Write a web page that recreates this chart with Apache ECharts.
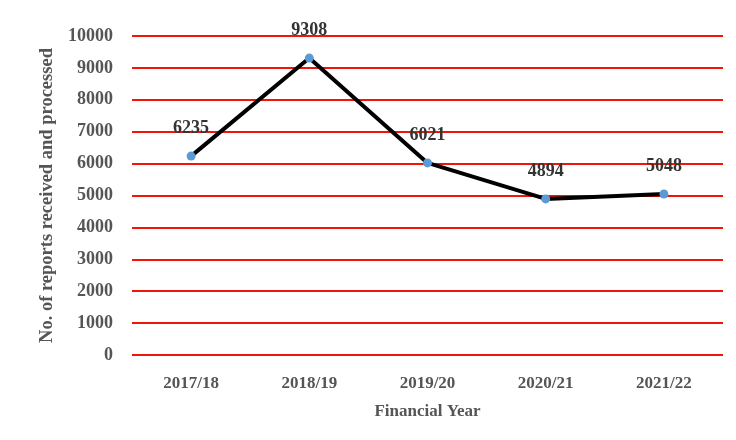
<!DOCTYPE html>
<html>
<head>
<meta charset="utf-8">
<script src="https://cdn.jsdelivr.net/npm/echarts@6/dist/echarts.min.js"></script>
<style>
html, body { margin: 0; padding: 0; background: #fff; }
#chart { width: 736px; height: 440px; }
</style>
</head>
<body>
<div id="chart"></div>
<script>
// data
const years = ['2017/18', '2018/19', '2019/20', '2020/21', '2021/22'];
const reports = [6235, 9308, 6021, 4894, 5048];

const font = '"Liberation Serif", "DejaVu Serif", serif';
const myChart = echarts.init(document.getElementById('chart'));

const option = {
  backgroundColor: '#fff',
  grid: { left: 132, right: 13, top: 36, bottom: 85 },
  xAxis: {
    type: 'category',
    data: years,
    name: 'Financial Year',
    nameLocation: 'middle',
    nameGap: 48,
    nameTextStyle: { fontFamily: font, fontWeight: 'bold', fontSize: 17, color: '#555' },
    axisLine: { show: false },
    axisTick: { show: false },
    axisLabel: { fontFamily: font, fontWeight: 'bold', fontSize: 17, color: '#555', margin: 20 }
  },
  yAxis: {
    type: 'value',
    min: 0,
    max: 10000,
    interval: 1000,
    name: 'No. of reports received and processed',
    nameLocation: 'middle',
    nameGap: 75,
    nameTextStyle: { fontFamily: font, fontWeight: 'bold', fontSize: 18.5, color: '#555' },
    axisLine: { show: false },
    axisTick: { show: false },
    axisLabel: {
      fontFamily: font, fontWeight: 'bold', fontSize: 18, color: '#555', margin: 19,
      formatter: v => String(v)
    },
    splitLine: { lineStyle: { color: '#f0140a', width: 2 } }
  },
  series: [{
    type: 'line',
    data: reports,
    symbol: 'circle',
    symbolSize: 9,
    itemStyle: { color: '#5b9bd5' },
    lineStyle: { color: '#000', width: 4 },
    label: {
      show: true,
      position: 'top',
      distance: 14,
      fontFamily: font,
      fontWeight: 'bold',
      fontSize: 18,
      color: '#333'
    },
    z: 5
  }]
};

myChart.setOption(option);
</script>
</body>
</html>
